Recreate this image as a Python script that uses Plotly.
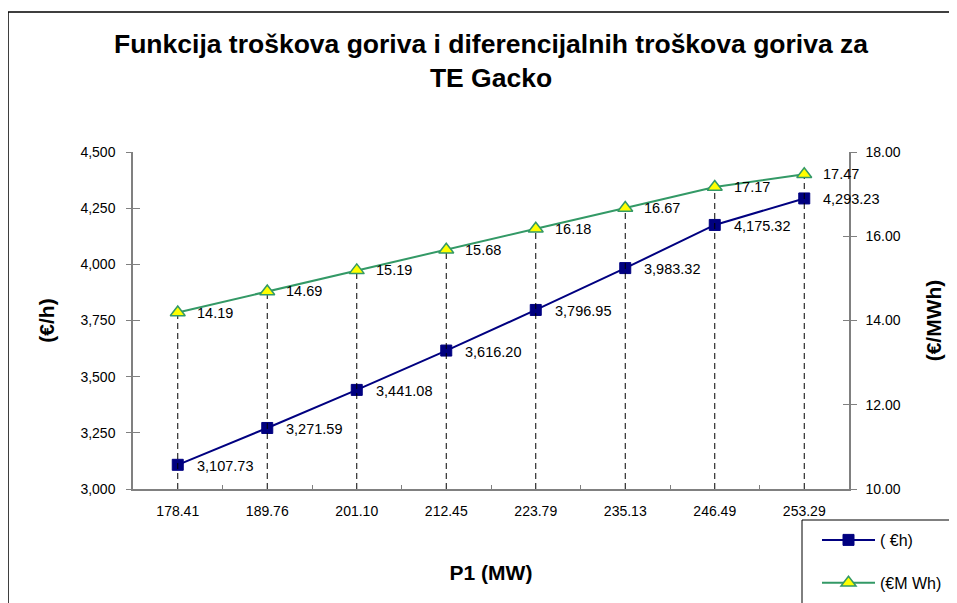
import plotly.graph_objects as go

# ---- data ----
p1_labels = ["178.41", "189.76", "201.10", "212.45", "223.79", "235.13", "246.49", "253.29"]
cost_eur_h = [3107.73, 3271.59, 3441.08, 3616.20, 3796.95, 3983.32, 4175.32, 4293.23]
diff_cost_eur_mwh = [14.19, 14.69, 15.19, 15.68, 16.18, 16.67, 17.17, 17.47]
y1_ticks = [3000, 3250, 3500, 3750, 4000, 4250, 4500]
y2_ticks = [10, 12, 14, 16, 18]

title_text = "Funkcija troškova goriva i diferencijalnih troškova goriva za<br>TE Gacko"
FONT = "Liberation Sans, Arial, sans-serif"

# page has an 8px body margin; figure sized so it ends at the window edge
OFF = 8
W, H = 957 - OFF, 603 - OFF
# plot area in screen pixels
SL, SR, ST, SB = 133, 849, 152, 489
L, T = SL - OFF, ST - OFF
R, B = W - (SR - OFF), H - (SB - OFF)
PW, PH = SR - SL, SB - ST

def px(x):
    return (x - SL) / PW

def py(y):
    return (SB - y) / PH

# dashed drop lines built from data (from point down to axis minimum)
drop_x, drop_y = [], []
for lab, v in zip(p1_labels, diff_cost_eur_mwh):
    drop_x += [lab, lab, None]
    drop_y += [y2_ticks[0], v, None]

fig = go.Figure()

fig.add_trace(go.Scatter(
    x=drop_x, y=drop_y, yaxis="y2", mode="lines",
    line=dict(color="black", width=1, dash="6px,4px"),
    showlegend=False, hoverinfo="skip"))

fig.add_trace(go.Scatter(
    x=p1_labels, y=cost_eur_h, name="( €h)", mode="lines+markers",
    line=dict(color="#000080", width=2),
    marker=dict(symbol="square", size=11, color="#000080",
                line=dict(color="#000080", width=1)),
    legendgroup="a", cliponaxis=False))

fig.add_trace(go.Scatter(
    x=p1_labels, y=diff_cost_eur_mwh, name="(€M Wh)", yaxis="y2",
    mode="lines+markers",
    line=dict(color="#339966", width=2),
    marker=dict(symbol="triangle-up", size=13, color="#FFFF00",
                line=dict(color="#339966", width=1.5)),
    legendgroup="b", cliponaxis=False))

# dummy traces to show the crossing tick marks on both value axes
fig.add_trace(go.Scatter(x=[p1_labels[0]], y=[None], yaxis="y3", showlegend=False, hoverinfo="skip"))
fig.add_trace(go.Scatter(x=[p1_labels[0]], y=[None], yaxis="y4", showlegend=False, hoverinfo="skip"))

# data labels, positioned by category index on the category axis
annotations = []
for i, v in enumerate(cost_eur_h):
    annotations.append(dict(x=i, y=v, xref="x", yref="y", text=f"{v:,.2f}",
                            showarrow=False, xanchor="left", yanchor="middle",
                            xshift=17, yshift=-1,
                            font=dict(family=FONT, size=14.5, color="black")))
for i, v in enumerate(diff_cost_eur_mwh):
    annotations.append(dict(x=i, y=v, xref="x", yref="y2", text=f"{v:.2f}",
                            showarrow=False, xanchor="left", yanchor="middle",
                            xshift=17, yshift=0,
                            font=dict(family=FONT, size=14.5, color="black")))

axis_col = "#808080"

fig.update_layout(
    width=W, height=H,
    margin=dict(l=L, r=R, t=T, b=B, autoexpand=False),
    paper_bgcolor="white", plot_bgcolor="white",
    font=dict(family=FONT, size=14, color="black"),
    title=dict(text=title_text, x=0.5, xref="paper", xanchor="center",
               y=1 - 44.5 / H, yref="container", yanchor="middle",
               font=dict(family=FONT, size=26.5, color="black", weight="bold")),
    xaxis=dict(type="category", range=[-0.5, len(p1_labels) - 0.5],
               showline=True, linecolor=axis_col, linewidth=1.5,
               ticks="inside", ticklen=4, tickcolor=axis_col, tickson="boundaries",
               ticklabelstandoff=8,
               showgrid=False, zeroline=False, automargin=False,
               tickfont=dict(family=FONT, size=14, color="black"),
               title=dict(text="P1 (MW)", standoff=48,
                          font=dict(family=FONT, size=21, color="black", weight="bold"))),
    yaxis=dict(range=[y1_ticks[0], y1_ticks[-1]], tickvals=y1_ticks,
               tickformat=",d", showline=True, linecolor=axis_col, linewidth=1.5,
               ticks="outside", ticklen=5, tickcolor=axis_col,
               ticklabelstandoff=8,
               showgrid=False, zeroline=False, automargin=False,
               tickfont=dict(family=FONT, size=14, color="black"),
               title=dict(text="(€/h)", standoff=20,
                          font=dict(family=FONT, size=21, color="black", weight="bold"))),
    yaxis2=dict(range=[y2_ticks[0], y2_ticks[-1]], tickvals=y2_ticks,
                tickformat=".2f", overlaying="y", side="right",
                showline=True, linecolor=axis_col, linewidth=1.5,
                ticks="outside", ticklen=6, tickcolor=axis_col,
                ticklabelstandoff=6,
                showgrid=False, zeroline=False, automargin=False,
                tickfont=dict(family=FONT, size=14, color="black"),
                title=dict(text="(€/MWh)", standoff=27,
                           font=dict(family=FONT, size=21, color="black", weight="bold"))),
    yaxis3=dict(range=[y1_ticks[0], y1_ticks[-1]], tickvals=y1_ticks,
                overlaying="y", side="left", showticklabels=False,
                showline=False, ticks="inside", ticklen=7, tickcolor=axis_col,
                showgrid=False, zeroline=False, automargin=False),
    yaxis4=dict(range=[y2_ticks[0], y2_ticks[-1]], tickvals=y2_ticks,
                overlaying="y", side="right", showticklabels=False,
                showline=False, ticks="inside", ticklen=6, tickcolor=axis_col,
                showgrid=False, zeroline=False, automargin=False),
    legend=dict(x=px(817), y=py(523), xanchor="left", yanchor="top",
                xref="paper", yref="paper",
                bgcolor="rgba(0,0,0,0)", borderwidth=0,
                font=dict(family=FONT, size=16, color="black"),
                traceorder="grouped", tracegroupgap=19, itemwidth=53),
    annotations=annotations,
    shapes=[
        dict(type="rect", xref="paper", yref="paper",
             x0=px(8), x1=px(1000), y0=py(650), y1=py(12),
             line=dict(color="black", width=1.5), fillcolor="rgba(0,0,0,0)", layer="below"),
        dict(type="rect", xref="paper", yref="paper",
             x0=px(802), x1=px(1000), y0=py(650), y1=py(520),
             line=dict(color="black", width=1), fillcolor="rgba(0,0,0,0)", layer="above"),
    ],
)

fig.write_html("out.html")
